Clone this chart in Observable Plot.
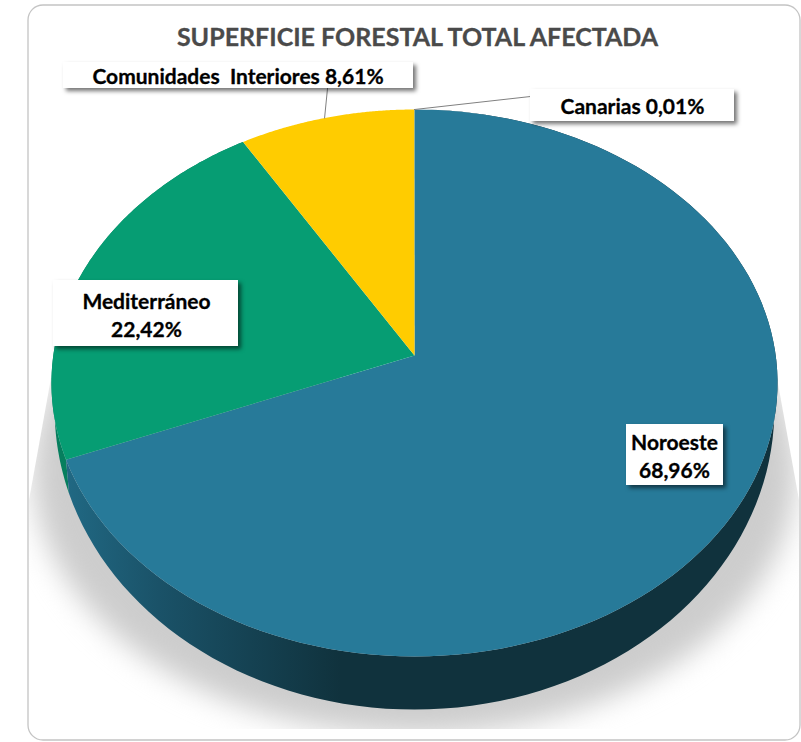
<!DOCTYPE html>
<html lang="es">
<head>
<meta charset="utf-8">
<style>
  html, body { margin: 0; padding: 0; background: #fff; }
</style>
<script src="https://cdn.jsdelivr.net/npm/d3@7"></script>
<script src="https://cdn.jsdelivr.net/npm/@observablehq/plot@0.6"></script>
</head>
<body>
<div id="chart"></div>
<script>
// ---- data ----
const titleText = "SUPERFICIE FORESTAL TOTAL AFECTADA";
const regions = ["Noroeste", "Mediterráneo", "Comunidades Interiores", "Canarias"];
const shares = [68.96, 22.42, 8.61, 0.01];
const labelTexts = ["Noroeste\n68,96%", "Mediterráneo\n22,42%", "Comunidades  Interiores 8,61%", "Canarias 0,01%"];
const faceColors = ["#277a99", "#069d73", "#ffcc00", "#277a99"];

// ---- layout of the label boxes (pixels of the frame) ----
const boxLeft = [626, 53, 63, 530];
const boxRight = [723, 238, 413, 734];
const boxTop = [424, 280, 62, 89];
const boxBottom = [485, 346, 88, 121];
const textX = [674, 146, 237.5, 632];
const textY = [455, 314, 75, 105];
const leaderEndX = [null, null, 327, 530];
const leaderEndY = [null, null, 88, 96];
const leaderFraction = [null, null, 0.49, 0.5];

// ---- perspective rims of the pie ----
const faceRim = {cx: 414, cy: 355, d: 361.2, a: 270.7, c: -0.1005};
const floorRim = {cx: 414, cy: 378.9, d: 358, a: 297, c: -0.1005};
const shadowRim = {cx: 414, cy: 470, d: 382, a: 264, c: 0};
const rimPoint = (rim, share) => {
  const t = share / 100 * 2 * Math.PI, sx = Math.sin(t), sy = -Math.cos(t), w = 1 + rim.c * sy;
  return [rim.cx + rim.d * sx / w, rim.cy + rim.a * sy / w];
};
const arc = (rim, from, to) => d3.range(0, 121).map(i => rimPoint(rim, from + (to - from) * i / 120));

const cum = d3.cumsum(shares);
const start = i => (i === 0 ? 0 : cum[i - 1]);

const faces = regions.flatMap((name, i) => [
  {name, x: faceRim.cx, y: faceRim.cy},
  ...arc(faceRim, start(i), cum[i]).map(([x, y]) => ({name, x, y}))
]);
const wall = i => [...arc(faceRim, start(i), cum[i]), ...arc(floorRim, start(i), cum[i]).reverse()].map(([x, y]) => ({x, y}));
const shadow = arc(shadowRim, 0, 100).map(([x, y]) => ({x, y}));

const boxes = regions.map((name, i) => ({name, x1: boxLeft[i], x2: boxRight[i], y1: boxTop[i], y2: boxBottom[i]}));
const labels = regions.map((name, i) => ({text: labelTexts[i], x: textX[i], y: textY[i]}));
const leaders = regions.flatMap((name, i) => {
  if (leaderEndX[i] === null) return [];
  const [x, y] = rimPoint(faceRim, start(i) + shares[i] * leaderFraction[i]);
  return [{name, x, y}, {name, x: leaderEndX[i], y: leaderEndY[i]}];
});

// ---- svg helpers ----
const NS = "http://www.w3.org/2000/svg";
const defs = () => {
  const d = document.createElementNS(NS, "defs");
  d.innerHTML = `
    <linearGradient id="wall-blue" gradientUnits="userSpaceOnUse" x1="60" y1="0" x2="340" y2="0">
      <stop offset="0" stop-color="#216a85"/>
      <stop offset="0.35" stop-color="#1a5268"/>
      <stop offset="1" stop-color="#10323d"/>
    </linearGradient>
    <clipPath id="shadow-clip">
      <polygon points="51,378 777,378 799,500 799,729 29,729 29,500"/>
    </clipPath>`;
  return d;
};
const blurred = (index, scales, values, dims, ctx, next) => {
  const g = next(index, scales, values, dims, ctx);
  g.style.filter = "blur(14px)";
  const wrap = document.createElementNS(NS, "g");
  wrap.setAttribute("clip-path", "url(#shadow-clip)");
  wrap.append(g);
  return wrap;
};
const dropped = (index, scales, values, dims, ctx, next) => {
  const g = next(index, scales, values, dims, ctx);
  g.style.filter = "drop-shadow(3px 3px 2px rgba(0,0,0,0.55))";
  return g;
};

const font = "Lato, 'Open Sans', sans-serif";

const chart = Plot.plot({
  width: 801,
  height: 742,
  margin: 0,
  style: {background: "#fff"},
  x: {domain: [0, 801], range: [0, 801], axis: null},
  y: {domain: [0, 742], range: [0, 742], axis: null},
  color: {type: "ordinal", domain: regions, range: faceColors},
  marks: [
    defs,
    Plot.line(shadow, {x: "x", y: "y", fill: "#cdcdcd", stroke: "none", curve: "linear-closed", render: blurred}),
    Plot.rect([{}], {x1: () => 28, x2: () => 800, y1: () => 5, y2: () => 740, rx: 15, fill: "none", stroke: "#c4c4c4", strokeWidth: 1.3}),
    Plot.line(wall(1), {x: "x", y: "y", fill: "#067f5e", stroke: "none", curve: "linear-closed"}),
    Plot.line(wall(0), {x: "x", y: "y", fill: "url(#wall-blue)", stroke: "none", curve: "linear-closed"}),
    Plot.line(faces, {x: "x", y: "y", z: "name", fill: "name", stroke: "none", curve: "linear-closed"}),
    Plot.line(leaders, {x: "x", y: "y", z: "name", stroke: "#808080", strokeWidth: 1}),
    Plot.rect(boxes, {x1: "x1", x2: "x2", y1: "y1", y2: "y2", fill: "#fff", stroke: "none", render: dropped}),
    Plot.text(labels, {x: "x", y: "y", text: "text", fontFamily: font, fontWeight: 700, fontSize: 21, lineHeight: 1.33, fill: "#000", stroke: "#000", strokeWidth: 0.3}),
    Plot.text([titleText], {x: () => 417, y: () => 37, text: d => d, fontFamily: font, fontWeight: 700, fontSize: 25, fill: "#4a4a4a", stroke: "#4a4a4a", strokeWidth: 0.3})
  ]
});
document.getElementById("chart").append(chart);
</script>
</body>
</html>
